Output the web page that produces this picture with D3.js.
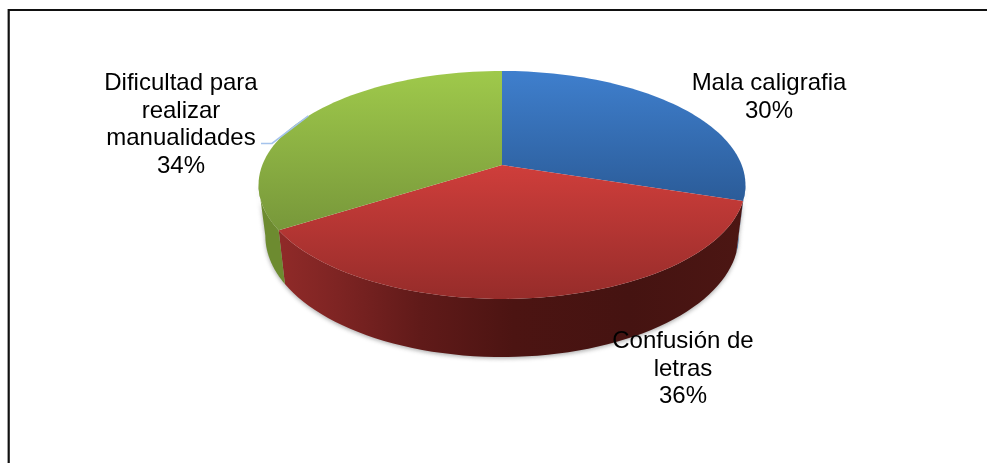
<!DOCTYPE html>
<html><head><meta charset="utf-8">
<script src="https://cdn.jsdelivr.net/npm/d3@7"></script>
<style>html,body{margin:0;padding:0;background:#fff}svg{display:block}
text{font-family:"Liberation Sans",Arial,sans-serif;font-size:24px;fill:#000;text-anchor:middle}</style>
</head><body><svg width="987" height="463"></svg>
<script>
const categories = ["Mala caligrafia", "Confusión de letras", "Dificultad para realizar manualidades"];
const values = [30, 36, 34];
const labelLines = [["Mala caligrafia","30%"],["Confusión de","letras","36%"],["Dificultad para","realizar","manualidades","34%"]];
const topGrad = [["#3f7fcd","#2b5c99"],["#cf3e3b","#962c2a"],["#9fc94b","#77973a"]];
const sideColor = ["#2b5c99","url(#s1)","#6d8b30"];
const labelPos = [[769,90],[683,348],[181,90]];
const lineGap = 27.7;

const svg = d3.select("svg");
const defs = svg.append("defs");
const pie = d3.pie().sort(null).value(d=>d).startAngle(0).endAngle(2*Math.PI);
const arcs = pie(values);
const P = -0.175;
const topDisc = {cx:502,cy:165,K:239.7,k:110.5};
const botDisc = {cx:502,cy:214.6,K:233,k:117.5};
const project = (disc,a)=>{
  const u=Math.sin(a), v=-Math.cos(a), w=1+P*v;
  return [disc.cx+disc.K*u/w, disc.cy+disc.k*v/w];
};
const arcPts = (disc,a0,a1)=>d3.range(0,61).map(i=>project(disc,a0+(a1-a0)*i/60));
const line = d3.line();
const deg = Math.PI/180;
const rimL = 260*deg, rimR = 100*deg; // where the disc outline turns away from the viewer

defs.append("filter").attr("id","soft").append("feGaussianBlur").attr("stdDeviation",2);
defs.append("filter").attr("id","txt").append("feGaussianBlur").attr("stdDeviation",0.25);

arcs.forEach((d,i)=>{
  const t=defs.append("linearGradient").attr("id","t"+i).attr("gradientUnits","userSpaceOnUse")
    .attr("x1",0).attr("x2",0).attr("y1",i==1?165:71).attr("y2",i==0?200:(i==1?299:232));
  t.append("stop").attr("offset",0).attr("stop-color",topGrad[i][0]);
  t.append("stop").attr("offset",1).attr("stop-color",topGrad[i][1]);
});
const sg=defs.append("linearGradient").attr("id","s1").attr("gradientUnits","userSpaceOnUse")
  .attr("x1",282).attr("x2",745).attr("y1",0).attr("y2",0);
[[0,"#8f2a28"],[0.12,"#7e2423"],[0.3,"#601a19"],[0.5,"#4c1412"],[0.75,"#451311"],[1,"#4c1613"]]
  .forEach(s=>sg.append("stop").attr("offset",s[0]).attr("stop-color",s[1]));

// frame: only the top and left rules are in the picture
svg.append("path").attr("d","M8.7,463V10H987").attr("fill","none").attr("stroke","#111").attr("stroke-width",2.2);

// soft shadow round the body
svg.append("path")
  .attr("d",line(arcPts(topDisc,rimR,rimL).concat(arcPts(botDisc,rimR,rimL).reverse()))+"Z")
  .attr("transform","translate(0,1.5)")
  .attr("fill","#666").attr("opacity",0.55).attr("filter","url(#soft)");

// sides: each slice's wall, limited to the part of the rim facing the viewer
arcs.forEach(d=>{
  const a0=Math.max(d.startAngle,rimR), a1=Math.min(d.endAngle,rimL);
  if(a1<=a0) return;
  const pts=arcPts(topDisc,a0,a1).concat(arcPts(botDisc,a0,a1).reverse());
  svg.append("path").attr("d",line(pts)+"Z").attr("fill",sideColor[d.index]);
});
// tops
arcs.forEach((d,i)=>{
  const pts=[[topDisc.cx,topDisc.cy]].concat(arcPts(topDisc,d.startAngle,d.endAngle));
  svg.append("path").attr("d",line(pts)+"Z").attr("fill","url(#t"+i+")");
});

// leader line
const a2=arcs[2], mid=(a2.startAngle+a2.endAngle)/2;
svg.append("path").attr("d",line([[261,143.5],[272,143.5],project(topDisc,mid)]))
  .attr("fill","none").attr("stroke","#a5c3ec").attr("stroke-width",1.6);

// labels
labelLines.forEach((ls,i)=>{
  const t=svg.append("text").attr("filter","url(#txt)");
  ls.forEach((s,j)=>t.append("tspan").attr("x",labelPos[i][0]).attr("y",labelPos[i][1]+j*lineGap).text(s));
});
</script></body></html>
